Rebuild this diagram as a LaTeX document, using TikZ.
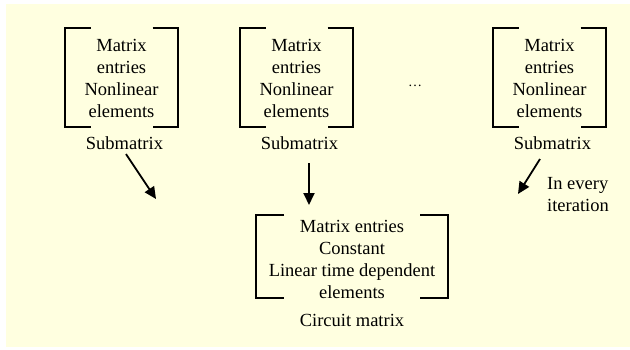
\documentclass[tikz,border=0pt]{standalone}
\usepackage{fontspec}
\setmainfont{Liberation Serif}
\usetikzlibrary{arrows.meta}
\definecolor{paper}{HTML}{FFFFE0}
\tikzset{
  brk/.style={line width=2.8pt, line cap=butt, line join=miter},
  lbl/.style={align=center, inner sep=0pt, font=\fontsize{18.5}{22}\selectfont},
  arr/.style={line width=1.8pt, -{Triangle[length=12pt,width=11pt]}},
}
\begin{document}
\begin{tikzpicture}[x=1pt,y=-1pt]
\useasboundingbox (0,0) rectangle (630,349);
\fill[paper] (6,4) rectangle (630,347);

% submatrix brackets (left, middle, right)
\foreach \cx/\nm in {121.5/a,296.5/b,549.5/c}{
  \draw[brk] (\cx-31,28) -- (\cx-56.5,28) -- (\cx-56.5,127) -- (\cx-31,127);
  \draw[brk] (\cx+31,28) -- (\cx+56.5,28) -- (\cx+56.5,127) -- (\cx+31,127);
  \node[lbl] (m\nm) at (\cx,78) {Matrix\\entries\\Nonlinear\\elements};
  \node[lbl, anchor=base] (s\nm) at (\cx+3,149) {Submatrix};
}

\node[lbl] (dots) at (415,86) {\fontsize{14}{14}\selectfont\ldots};

% circuit matrix bracket
\draw[brk] (284,215) -- (256,215) -- (256,298) -- (284,298);
\draw[brk] (420,215) -- (448,215) -- (448,298) -- (420,298);
\node[lbl] (cm) at (352,259) {Matrix entries\\Constant\\Linear time dependent\\elements};
\node[lbl, anchor=base] (cml) at (352,326) {Circuit matrix};

% connectors
\coordinate (ta) at (156,199);
\coordinate (tb) at (309,205);
\coordinate (tc) at (518,194);
\draw[arr] (126,154) -- (ta);
\draw[arr] (309,163) -- (tb);
\draw[arr] (540,159) -- (tc);

\node[lbl, align=left, anchor=north west] (it) at (547,177) {In every\\iteration};
\end{tikzpicture}
\end{document}
